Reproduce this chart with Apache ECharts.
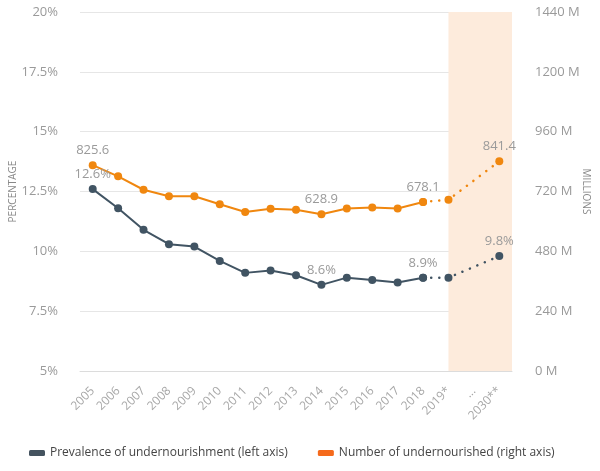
<!DOCTYPE html>
<html>
<head>
<meta charset="utf-8">
<script src="https://cdn.jsdelivr.net/npm/echarts@6/dist/echarts.min.js"></script>
<style>html,body{margin:0;padding:0;background:#fff}#c{width:600px;height:471px}</style>
</head>
<body>
<div id="c"></div>
<script>
const categories = ['2005','2006','2007','2008','2009','2010','2011','2012','2013','2014','2015','2016','2017','2018','2019*','...','2030**'];
const prevalence = [12.6, 11.8, 10.9, 10.3, 10.2, 9.6, 9.1, 9.2, 9.0, 8.6, 8.9, 8.8, 8.7, 8.9, 8.9, null, 9.8];
const undernourished = [825.6, 781, 727, 701, 701, 669, 638, 651, 647, 628.9, 652, 656, 652, 678.1, 687, null, 841.4];
const labelIdx = [0, 9, 13, 16];
const lastObserved = 13; // 2018
const shadeFrom = 14;    // 2019*
const leftTicks = {min: 5, max: 20, interval: 2.5};
const rightTicks = {min: 0, max: 1440, interval: 240};
const nameA = 'Prevalence of undernourishment (left axis)';
const nameB = 'Number of undernourished (right axis)';

const cA = '#415463', cB = '#f0870f';
const font = "'Open Sans', 'Noto Sans', sans-serif";
const labelStyle = {show: true, position: 'top', distance: 4, color: '#9a9a9a', fontSize: 13, fontFamily: font};

function solidData(arr, fmt) {
  return arr.map((v, i) => {
    if (i > lastObserved) return null;
    const item = {value: v};
    if (labelIdx.includes(i)) item.label = Object.assign({}, labelStyle, {formatter: fmt(v)});
    return item;
  });
}
function dottedData(arr, fmt) {
  return arr.map((v, i) => {
    if (i < lastObserved || v === null) return null;
    const item = {value: v};
    if (labelIdx.includes(i) && i > lastObserved) item.label = Object.assign({}, labelStyle, {formatter: fmt(v)});
    return item;
  });
}
const fmtA = v => v.toFixed(1) + '%';
const fmtB = v => v.toFixed(1);

const chart = echarts.init(document.getElementById('c'));
chart.setOption({
  animation: false,
  textStyle: {fontFamily: font},
  grid: {left: 80, right: 88, top: 12, bottom: 100, outerBoundsMode: 'none', containLabel: false},
  legend: {
    data: [{name: nameA, itemStyle: {color: '#44535f'}}, {name: nameB, itemStyle: {color: '#f56a1c'}}],
    left: 24, bottom: 7,
    icon: 'roundRect', itemWidth: 16, itemHeight: 6, itemGap: 30,
    textStyle: {color: '#444', fontSize: 12, fontFamily: font}
  },
  xAxis: [{
    type: 'category', data: categories,
    axisLine: {lineStyle: {color: '#dcdcdc'}},
    axisTick: {show: false},
    axisLabel: {rotate: 45, color: '#a8a8a8', fontSize: 12, margin: 18, interval: 0, fontFamily: font}
  }, {
    type: 'value', min: -0.5, max: 16.5, show: false
  }],
  yAxis: [{
    type: 'value', min: leftTicks.min, max: leftTicks.max, interval: leftTicks.interval,
    name: 'PERCENTAGE', nameLocation: 'middle', nameGap: 62, nameRotate: 90, nameMoveOverlap: false,
    nameTextStyle: {color: '#888', fontSize: 10, fontFamily: font},
    axisLine: {show: false}, axisTick: {show: false},
    axisLabel: {formatter: v => v + '%', color: '#9a9a9a', fontSize: 13, margin: 22, fontFamily: font},
    splitLine: {lineStyle: {color: '#e6e6e6'}}
  }, {
    type: 'value', min: rightTicks.min, max: rightTicks.max, interval: rightTicks.interval,
    name: 'MILLIONS', nameLocation: 'middle', nameGap: 69, nameRotate: -90, nameMoveOverlap: false,
    nameTextStyle: {color: '#888', fontSize: 10, fontFamily: font},
    axisLine: {show: false}, axisTick: {show: false},
    axisLabel: {formatter: v => v + ' M', color: '#9a9a9a', fontSize: 13, margin: 23, fontFamily: font},
    splitLine: {show: false}
  }],
  series: [{
    type: 'line', name: 'shade', xAxisIndex: 1, yAxisIndex: 0, data: [], silent: true,
    markArea: {silent: true, itemStyle: {color: '#fdebdc'}, data: [[{xAxis: shadeFrom}, {xAxis: 16.5}]]},
    z: 0
  }, {
    type: 'line', name: nameB, yAxisIndex: 1,
    data: solidData(undernourished, fmtB),
    symbol: 'circle', symbolSize: 8,
    itemStyle: {color: cB}, lineStyle: {color: cB, width: 2}
  }, {
    type: 'line', name: nameB, yAxisIndex: 1,
    data: dottedData(undernourished, fmtB), connectNulls: true,
    symbol: 'circle', symbolSize: 8,
    itemStyle: {color: cB}, lineStyle: {color: cB, width: 2.5, type: [0.1, 8], cap: 'round'}
  }, {
    type: 'line', name: nameA, yAxisIndex: 0,
    data: solidData(prevalence, fmtA),
    symbol: 'circle', symbolSize: 8,
    itemStyle: {color: cA}, lineStyle: {color: cA, width: 2}
  }, {
    type: 'line', name: nameA, yAxisIndex: 0,
    data: dottedData(prevalence, fmtA), connectNulls: true,
    symbol: 'circle', symbolSize: 8,
    itemStyle: {color: cA}, lineStyle: {color: cA, width: 2.5, type: [0.1, 8], cap: 'round'}
  }]
});
</script>
</body>
</html>
